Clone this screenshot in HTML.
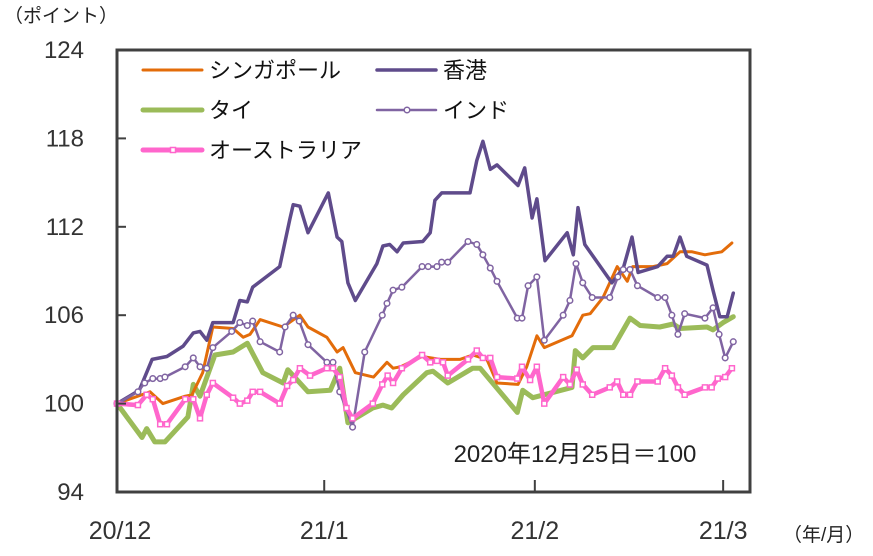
<!DOCTYPE html>
<html><head><meta charset="utf-8"><style>
body{margin:0;background:#fff;}
svg{display:block;font-family:"Liberation Sans","Noto Sans CJK JP",sans-serif;}
</style></head><body>
<svg id="chart" width="873" height="556">
<rect x="0" y="0" width="873" height="556" fill="#fff"/>
<g id="grid"></g><g id="series"></g><g id="axes"></g>
</svg>
<script>
const yTicks=[124,118,112,106,100,94];
const xTickLabels=["20/12","21/1","21/2","21/3"];
const xTickDays=[0,30.7,61.9,89.8];
const sgDays=[0,4.9,6.8,10.1,11.1,12.7,14.2,17.2,18.7,19.7,21.2,24.6,27.1,28.3,31.1,32.6,33.5,35.3,38,40,40.9,42,45.2,47.9,50.8,52.7,54.8,56.3,59.4,60.7,62.2,63.3,67.4,69,70.1,72,74.1,75.6,76.4,79.4,81.5,83.4,85.2,87.1,88.3,89.6,91.1];
const sgVals=[100,100.8,100.0,100.5,100.6,102.1,105.2,105.1,104.5,104.7,105.7,105.2,106.0,105.2,104.5,103.5,103.8,102.1,101.8,102.8,102.4,102.5,103.2,103.0,103.0,103.3,103.0,101.4,101.3,102.5,104.6,103.8,104.6,106.0,106.1,107.2,109.3,108.3,109.3,109.3,109.5,110.3,110.3,110.1,110.2,110.3,110.9];
const hkDays=[0,3.3,5.2,7.4,9.8,11.3,12.3,13.3,14.2,17.2,18.2,19.3,20.1,24.1,25.6,26.1,27.1,28.3,31.3,32.6,33.3,34.2,35.3,38.5,39.4,40.4,41.5,42.4,45.3,46.4,47.1,48.1,52.3,53.3,54.2,55.3,56.3,59.4,60.4,61.5,62.2,63.4,66.7,67.6,68.3,69.3,73.3,75,76.3,77.2,80.1,81.5,82.4,83.4,84.4,87.4,88.3,89.3,90.4,91.3];
const hkVals=[100,100.9,103.0,103.2,103.9,104.8,104.9,104.3,105.5,105.5,107.0,106.9,107.9,109.3,112.5,113.5,113.4,111.6,114.3,111.3,111.0,108.2,107.0,109.5,110.7,110.8,110.3,110.9,111.0,111.6,113.8,114.3,114.3,116.5,117.8,115.9,116.2,114.8,116.0,112.6,113.9,109.7,111.6,110.1,113.3,110.8,108.2,109.2,111.3,108.9,109.3,110.0,110.0,111.3,110.0,109.4,107.7,105.9,105.9,107.5];
const thDays=[0,3.7,4.4,5.6,7.1,10.5,11.3,12.3,14.5,17.2,19.3,21.6,24.6,25.3,28.3,31.6,33,34.2,37.9,39.4,40.7,42.4,45.9,46.8,49,52.7,53.8,59.3,60.1,61.6,67.4,67.9,69,70.5,73.5,76,77.5,80.4,82.4,83.4,87.4,88.3,89.8,91.3];
const thVals=[100,97.7,98.3,97.4,97.4,99.1,101.3,100.5,103.3,103.5,104.1,102.1,101.4,102.3,100.8,100.9,102.4,98.7,99.7,99.9,99.7,100.6,102.1,102.2,101.4,102.4,102.4,99.4,100.9,100.4,101.1,103.6,103.1,103.8,103.8,105.8,105.3,105.2,105.4,105.1,105.2,105.0,105.5,105.9];
const inDays=[0,3.1,4.1,5.3,6.4,7.1,10.1,11.3,12.3,13.3,14.2,17,18.2,19.3,20.1,21.2,24.1,24.9,26.1,27,28.3,31.1,32,33,34.9,36.7,39.3,40,40.9,42.2,45.2,46.1,47.4,48.1,49,52,53.3,54.2,55.3,56.3,59.3,60,60.9,62.2,63.3,66.1,67.1,68,69,70.4,73,74.2,75,76,77.1,80.1,81.2,82.2,83.1,84.1,87.1,88.3,89.2,90.1,91.3];
const inVals=[100,100.8,101.4,101.7,101.7,101.8,102.5,103.1,102.5,102.4,103.8,104.9,105.5,105.3,105.6,104.2,103.5,105.2,106.0,105.6,104.0,102.8,102.8,100.8,98.4,103.5,106.0,106.8,107.7,107.9,109.3,109.3,109.3,109.6,109.6,111.0,110.8,110.1,109.2,108.3,105.8,105.8,108.0,108.6,104.3,106.0,107.0,109.5,108.2,107.2,107.2,108.6,109.1,109.1,108.0,107.2,107.2,106.0,104.7,106.1,105.8,106.5,104.7,103.1,104.2];
const auDays=[0,3.1,4.4,5.3,6.4,7.4,10.1,11.3,12.3,13.3,14.2,17.2,18.2,19.3,20.1,21.2,24.1,25.2,26.1,27.1,28.6,31.1,32,33,34,34.9,37.9,39.3,40.1,40.9,42.2,45.2,46.4,47.4,48.3,49,52,53.3,54.2,55.3,56.3,59.3,60,61.2,62.2,63.3,66.1,67.1,68.1,69,70.4,73,74.1,75,76,77.1,80.1,81.2,82.2,83.1,84.1,87.1,88.1,89,90.1,91.1];
const auVals=[100,99.9,100.6,100.3,98.6,98.6,100.3,100.3,99.0,100.6,101.4,100.4,100.0,100.2,100.8,100.8,100.0,101.2,101.6,102.4,101.9,102.4,102.4,101.8,99.7,99.0,100.0,101.3,101.9,101.4,102.4,103.3,102.8,102.9,102.8,101.9,103.0,103.6,103.1,103.1,101.8,101.7,102.5,101.6,102.5,100.0,101.8,101.3,102.3,101.3,100.6,101.1,101.5,100.6,100.6,101.5,101.5,102.4,101.9,101.1,100.6,101.1,101.1,101.7,101.8,102.4];

const NS="http://www.w3.org/2000/svg";
const L=117,R=750,T=50,B=492;
function xs(d){return L+d*6.75;}
function ys(v){return T+(124-v)*(B-T)/30;}
function mk(tag,attrs,parent){const e=document.createElementNS(NS,tag);for(const k in attrs)e.setAttribute(k,attrs[k]);parent.appendChild(e);return e;}
const series=document.getElementById('series'),axes=document.getElementById('axes');

function drawLine(days,vals,color,w,name){
  const pts=days.map((d,i)=>xs(d).toFixed(1)+","+ys(vals[i]).toFixed(1)).join(" ");
  const p=mk('polyline',{points:pts,fill:'none',stroke:color,'stroke-width':w,'stroke-linejoin':'round','stroke-linecap':'round'},series);
  
  
  return p;
}
drawLine(thDays,thVals,'#9bbb59',5,'thailand-line');
drawLine(sgDays,sgVals,'#e36c0a',3,'singapore-line');
drawLine(hkDays,hkVals,'#5f4b8b',3.5,'hongkong-line');
drawLine(inDays,inVals,'#8064a2',2.5,'india-line');
inDays.forEach((d,i)=>{
  const c=mk('circle',{cx:xs(d),cy:ys(inVals[i]),r:2.8,fill:'#fff',stroke:'#8064a2','stroke-width':1.5},series);
  
  
});
drawLine(auDays,auVals,'#ff66cc',4.5,'australia-line');
auDays.forEach((d,i)=>{
  const s=mk('rect',{x:xs(d)-2.5,y:ys(auVals[i])-2.5,width:5,height:5,fill:'#fff',stroke:'#ff66cc','stroke-width':1.5},series);
  
  
});

const box=mk('rect',{x:L,y:T,width:R-L,height:B-T,fill:'none',stroke:'#404040','stroke-width':3},axes);


yTicks.forEach(v=>{
  if(v!==124&&v!==94){const t=mk('line',{x1:L,x2:L+9,y1:ys(v),y2:ys(v),stroke:'#404040','stroke-width':2},axes);
  
  }
  const lb=mk('text',{x:84,y:ys(v)+8,'text-anchor':'end','font-size':24,fill:'#333'},axes);
  lb.textContent=v;
  
  
});
xTickDays.forEach((d,i)=>{
  if(i>0){const t=mk('line',{x1:xs(d),x2:xs(d),y1:B,y2:B-12,stroke:'#404040','stroke-width':2},axes);
  
  }
  const lb=mk('text',{x:xs(d)+(i==0?3:0),y:539,'text-anchor':'middle','font-size':25,fill:'#333'},axes);
  lb.textContent=xTickLabels[i];
  
  
});
function txt(x,y,s,size,name,anchor){const t=mk('text',{x:x,y:y,'font-size':size,fill:'#222','text-anchor':anchor||'start'},axes);t.textContent=s;return t;}
txt(4,22,'（ポイント）',19,'y-axis-unit');
txt(783,541,'（年/月）',19,'x-axis-unit');
txt(575,462,'2020年12月25日＝100',24,'base-date-note','middle');
const legend=[
  ['シンガポール','#e36c0a',3,143,70,null],
  ['香港','#5f4b8b',3.5,377,70,null],
  ['タイ','#9bbb59',5,143,110,null],
  ['インド','#8064a2',2.5,377,110,'c'],
  ['オーストラリア','#ff66cc',5,143,150,'s']
];
legend.forEach(e=>{
  const g=mk('g',{},axes);
  
  
  mk('line',{x1:e[3],x2:e[3]+59,y1:e[4],y2:e[4],stroke:e[1],'stroke-width':e[2],'stroke-linecap':'round'},g);
  if(e[5]==='c')mk('circle',{cx:e[3]+30,cy:e[4],r:2.8,fill:'#fff',stroke:e[1],'stroke-width':1.5},g);
  if(e[5]==='s')mk('rect',{x:e[3]+27.5,y:e[4]-2.5,width:5,height:5,fill:'#fff',stroke:e[1],'stroke-width':1.5},g);
  const t=mk('text',{x:e[3]+66,y:e[4]+8,'font-size':22,fill:'#111'},g);
  t.textContent=e[0];
});
</script>
</body></html>
